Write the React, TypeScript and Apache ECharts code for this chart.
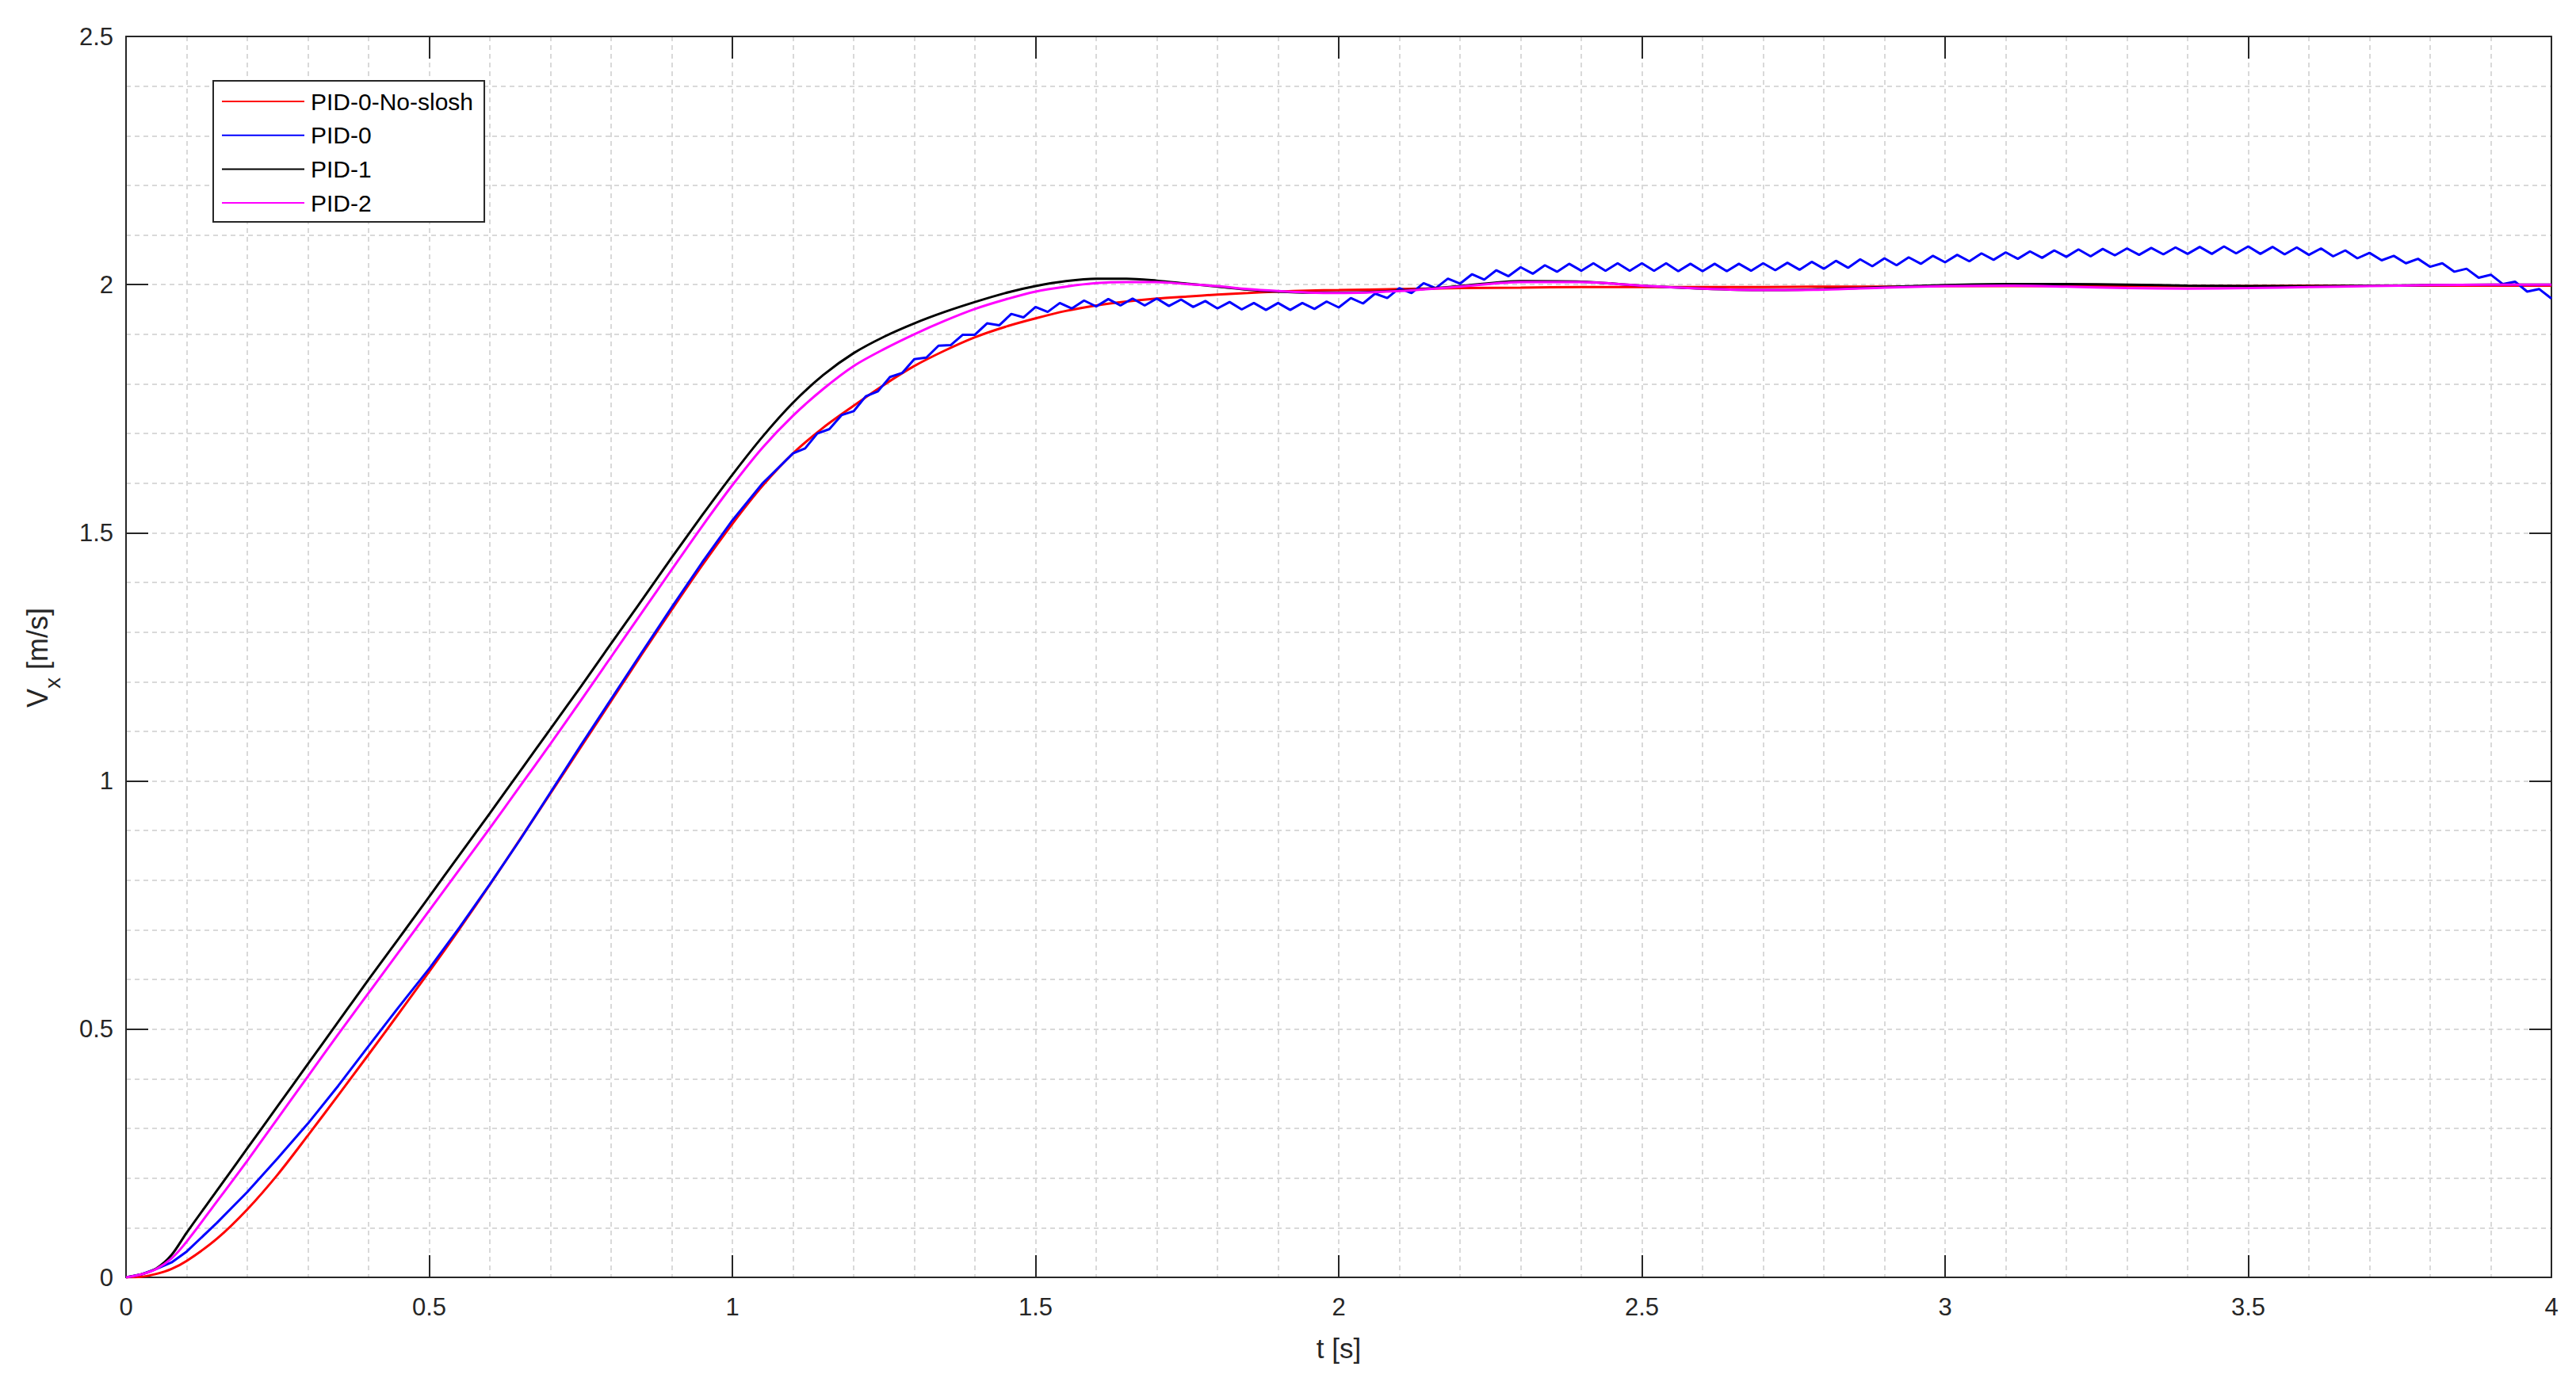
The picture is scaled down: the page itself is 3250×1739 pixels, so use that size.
import React, { useEffect, useRef } from "react";
import * as echarts from "echarts";

// Sampling times (s) for the smooth responses
const TIME = [
  0, 0.025, 0.05, 0.075, 0.1, 0.15, 0.2, 0.25, 0.3, 0.35, 0.4, 0.45, 0.5, 0.55, 0.6, 0.65, 0.7, 0.75,
  0.8, 0.85, 0.9, 0.95, 1.0, 1.05, 1.1, 1.15, 1.2, 1.25, 1.3, 1.35, 1.4, 1.45, 1.5, 1.55, 1.6, 1.65,
  1.7, 1.75, 1.8, 1.85, 1.9, 1.95, 2.0, 2.1, 2.2, 2.3, 2.4, 2.5, 2.6, 2.7, 2.8, 2.9, 3.0, 3.1, 3.2,
  3.3, 3.4, 3.5, 3.6, 3.7, 3.8, 3.9, 4.0,
];

// PID-0-No-slosh (red)
const RED_V = [
  0, 0.001, 0.007, 0.017, 0.033, 0.078, 0.137, 0.207, 0.286, 0.367, 0.449, 0.532, 0.616, 0.702, 0.791,
  0.883, 0.975, 1.068, 1.161, 1.254, 1.345, 1.434, 1.518, 1.595, 1.66, 1.712, 1.756, 1.798, 1.836, 1.867,
  1.894, 1.915, 1.932, 1.947, 1.958, 1.966, 1.972, 1.976, 1.98, 1.983, 1.986, 1.988, 1.989, 1.991,
  1.993, 1.994, 1.995, 1.995, 1.995, 1.995, 1.996, 1.996, 1.997, 1.997, 1.997, 1.997, 1.997, 1.997,
  1.998, 1.998, 1.998, 1.998, 1.998,
];

// PID-1 (black)
const BLACK_V = [
  0, 0.006, 0.018, 0.045, 0.09, 0.175, 0.26, 0.345, 0.43, 0.515, 0.6, 0.683, 0.767, 0.851, 0.935,
  1.02, 1.105, 1.19, 1.277, 1.363, 1.45, 1.535, 1.617, 1.694, 1.762, 1.818, 1.862, 1.895, 1.922, 1.945,
  1.965, 1.983, 1.997, 2.007, 2.012, 2.012, 2.008, 2.002, 1.996, 1.99, 1.986, 1.984, 1.984, 1.988,
  1.997, 2.007, 2.006, 1.998, 1.992, 1.989, 1.991, 1.995, 1.999, 2.001, 2.001, 2.0, 1.998, 1.997,
  1.997, 1.998, 1.999, 2.0, 2.0,
];

// PID-2 (magenta)
const MAGENTA_V = [
  0, 0.006, 0.017, 0.038, 0.072, 0.153, 0.235, 0.32, 0.405, 0.49, 0.573, 0.656, 0.739, 0.822, 0.905,
  0.99, 1.075, 1.162, 1.25, 1.338, 1.426, 1.513, 1.596, 1.672, 1.736, 1.79, 1.836, 1.87, 1.9, 1.927,
  1.951, 1.97, 1.986, 1.996, 2.003, 2.005, 2.005, 2.001, 1.997, 1.991, 1.987, 1.984, 1.983, 1.987,
  1.996, 2.005, 2.005, 1.998, 1.992, 1.989, 1.99, 1.994, 1.997, 1.998, 1.996, 1.993, 1.992, 1.993,
  1.995, 1.997, 1.999, 2.0, 2.0,
];

// PID-0 (blue): smooth rise on TIME[0..23], then sloshing ripple sampled every 0.02 s from 1.10 s
const BLUE_RISE_V = [
  0, 0.006, 0.017, 0.03, 0.052, 0.11, 0.172, 0.24, 0.31, 0.386, 0.466, 0.545, 0.622, 0.705, 0.792,
  0.882, 0.977, 1.072, 1.165, 1.258, 1.35, 1.44, 1.525, 1.6,
];
const BLUE_OSC_START = 1.1;
const BLUE_OSC_STEP = 0.02;
const BLUE_OSC_V = [
  1.66, 1.67, 1.7, 1.709, 1.737, 1.745, 1.775, 1.785, 1.814, 1.822, 1.85, 1.853, 1.877, 1.878, 1.899,
  1.899, 1.922, 1.918, 1.941, 1.934, 1.955, 1.945, 1.963, 1.952, 1.968, 1.956, 1.971, 1.958, 1.972,
  1.958, 1.972, 1.957, 1.97, 1.955, 1.967, 1.952, 1.965, 1.95, 1.963, 1.949, 1.963, 1.949, 1.963,
  1.951, 1.966, 1.954, 1.973, 1.962, 1.982, 1.973, 1.993, 1.983, 2.003, 1.993, 2.012, 2.002, 2.021,
  2.01, 2.029, 2.017, 2.035, 2.022, 2.039, 2.026, 2.042, 2.028, 2.043, 2.028, 2.043, 2.028, 2.043,
  2.028, 2.043, 2.027, 2.042, 2.027, 2.042, 2.027, 2.042, 2.028, 2.043, 2.029, 2.044, 2.03, 2.046,
  2.032, 2.048, 2.034, 2.051, 2.037, 2.053, 2.039, 2.055, 2.042, 2.058, 2.045, 2.06, 2.047, 2.063,
  2.05, 2.065, 2.052, 2.067, 2.054, 2.069, 2.056, 2.071, 2.057, 2.072, 2.059, 2.073, 2.06, 2.074,
  2.061, 2.075, 2.062, 2.076, 2.062, 2.077, 2.063, 2.077, 2.062, 2.076, 2.061, 2.075, 2.06, 2.073,
  2.057, 2.069, 2.053, 2.064, 2.049, 2.058, 2.043, 2.052, 2.036, 2.043, 2.026, 2.032, 2.014, 2.02,
  2.001, 2.006, 1.986, 1.991, 1.972,
];

const SERIES_NAMES = ["PID-0-No-slosh", "PID-0", "PID-1", "PID-2"];
const SERIES_COLORS = ["#ff0000", "#0000ff", "#000000", "#ff00ff"];

const FONT = "'Liberation Sans', Arial, Helvetica, sans-serif";
const AXIS_COLOR = "#262626";
const GRID_LINE = { color: "#d9d9d9", width: 2, type: [6, 5] as number[] };

export default function App() {
  const ref = useRef<HTMLDivElement>(null);

  useEffect(() => {
    if (!ref.current) return;
    const chart = echarts.init(ref.current, undefined, { renderer: "svg" });

    const pairs = (vals: number[]) => vals.map((v, i) => [TIME[i], v]);
    const blueData = BLUE_RISE_V.map((v, i) => [TIME[i], v]).concat(
      BLUE_OSC_V.map((v, i) => [Number((BLUE_OSC_START + i * BLUE_OSC_STEP).toFixed(2)), v])
    );
    const seriesData = [pairs(RED_V), blueData, pairs(BLACK_V), pairs(MAGENTA_V)];

    const frameAxisCommon = {
      type: "value" as const,
      axisLine: { show: true, onZero: false, lineStyle: { color: AXIS_COLOR, width: 2 } },
      axisTick: { show: true, inside: true, length: 28, lineStyle: { color: AXIS_COLOR, width: 2 } },
    };

    const nameStyle = { fill: AXIS_COLOR, fontFamily: FONT };

    chart.setOption({
      animation: false,
      backgroundColor: "#ffffff",
      grid: { left: 159, right: 31, top: 46, bottom: 127, containLabel: false },
      legend: {
        orient: "vertical",
        left: 269,
        top: 102,
        padding: [11, 14, 9, 10],
        itemGap: 12.7,
        itemWidth: 104,
        itemHeight: 30,
        backgroundColor: "#ffffff",
        borderColor: AXIS_COLOR,
        borderWidth: 2,
        borderRadius: 0,
        itemStyle: { opacity: 0, borderWidth: 0 },
        textStyle: { fontSize: 30, color: "#000000", fontFamily: FONT, padding: [0, 0, 0, 3] },
        data: SERIES_NAMES,
      },
      graphic: [
        {
          type: "group",
          x: 47,
          y: 893,
          rotation: Math.PI / 2,
          silent: true,
          children: [
            {
              type: "text",
              x: 0,
              y: 0,
              style: { ...nameStyle, text: "V", fontSize: 36, align: "left", verticalAlign: "middle" },
            },
            {
              type: "text",
              x: 24,
              y: 19,
              style: { ...nameStyle, text: "x", fontSize: 28, align: "left", verticalAlign: "middle" },
            },
            {
              type: "text",
              x: 38,
              y: 0,
              style: { ...nameStyle, text: " [m/s]", fontSize: 36, align: "left", verticalAlign: "middle" },
            },
          ],
        },
      ],
      xAxis: [
        {
          ...frameAxisCommon,
          position: "bottom",
          min: 0,
          max: 4,
          interval: 0.5,
          axisLabel: { fontSize: 31, color: AXIS_COLOR, fontFamily: FONT, margin: 22 },
          splitLine: { show: true, lineStyle: GRID_LINE },
          minorTick: { show: true, splitNumber: 5, length: 0, lineStyle: { width: 0 } },
          minorSplitLine: { show: true, lineStyle: GRID_LINE },
          name: "t [s]",
          nameLocation: "middle",
          nameGap: 72,
          nameTextStyle: { fontSize: 35, color: AXIS_COLOR, fontFamily: FONT },
        },
        {
          ...frameAxisCommon,
          position: "top",
          min: 0,
          max: 4,
          interval: 0.5,
          axisLabel: { show: false },
          splitLine: { show: false },
        },
      ],
      yAxis: [
        {
          ...frameAxisCommon,
          position: "left",
          min: 0,
          max: 2.5,
          interval: 0.5,
          axisLabel: { fontSize: 31, color: AXIS_COLOR, fontFamily: FONT, margin: 16 },
          splitLine: { show: true, lineStyle: GRID_LINE },
          minorTick: { show: true, splitNumber: 5, length: 0, lineStyle: { width: 0 } },
          minorSplitLine: { show: true, lineStyle: GRID_LINE },
        },
        {
          ...frameAxisCommon,
          position: "right",
          min: 0,
          max: 2.5,
          interval: 0.5,
          axisLabel: { show: false },
          splitLine: { show: false },
        },
      ],
      series: SERIES_NAMES.map((name, i) => ({
        name,
        type: "line",
        xAxisIndex: 0,
        yAxisIndex: 0,
        data: seriesData[i],
        symbol: "none",
        showSymbol: false,
        smooth: i === 1 ? false : 0.3,
        lineStyle: { color: SERIES_COLORS[i], width: 3 },
        itemStyle: { color: SERIES_COLORS[i] },
        z: 2 + i,
      })),
    });

    return () => chart.dispose();
  }, []);

  return (
    <div
      ref={ref}
      style={{ position: "fixed", left: 0, top: 0, width: 3250, height: 1739, background: "#fff" }}
    />
  );
}
